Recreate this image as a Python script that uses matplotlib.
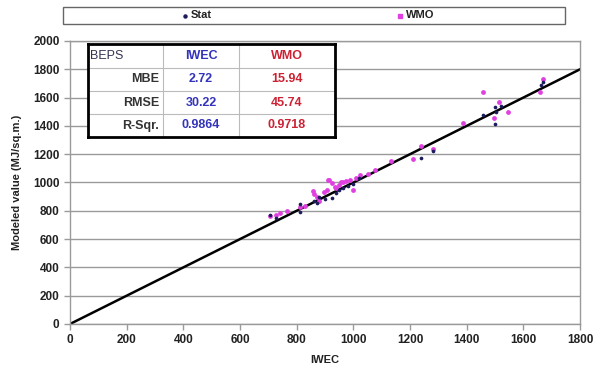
import matplotlib.pyplot as plt
from matplotlib.lines import Line2D
from matplotlib.patches import Rectangle

plt.rcParams['font.family'] = ['Liberation Sans', 'DejaVu Sans']
plt.rcParams['font.weight'] = 'bold'

# Datos (IWEC vs valor modelado)
stat_x = [706, 727, 812, 812, 862, 871, 880, 900, 923, 940, 950, 965, 980, 1000, 1020,
          1238, 1280, 1459, 1500, 1500, 1505, 1520, 1662, 1671]
stat_y = [770, 750, 790, 848, 870, 852, 895, 880, 887, 925, 945, 960, 975, 990, 1035,
          1171, 1225, 1477, 1413, 1536, 1500, 1540, 1689, 1710]

wmo_x = [706, 727, 741, 765, 812, 830, 857, 862, 870, 895, 906, 912, 915, 923, 935, 950,
         964, 975, 988, 1000, 1010, 1024, 1050, 1076, 1132, 1212, 1238, 1280, 1386,
         1459, 1497, 1515, 1545, 1659, 1671, 880, 940, 958]
wmo_y = [760, 770, 787, 800, 830, 835, 942, 916, 900, 935, 947, 1018, 1018, 994, 970, 985,
         1006, 1010, 1021, 947, 1035, 1053, 1060, 1088, 1155, 1164, 1258, 1240, 1417,
         1641, 1453, 1571, 1496, 1641, 1729, 870, 960, 1000]

linea_x = [0, 1800]
linea_y = [0, 1800]

x_ticks = [0, 200, 400, 600, 800, 1000, 1200, 1400, 1600, 1800]
y_ticks = [0, 200, 400, 600, 800, 1000, 1200, 1400, 1600, 1800, 2000]

tabla_filas = ["MBE", "RMSE", "R-Sqr."]
tabla_iwec = ["2.72", "30.22", "0.9864"]
tabla_wmo = ["15.94", "45.74", "0.9718"]

color_stat = "#1c1c5c"
color_wmo = "#e040e0"
gris = "#9a9a9a"

fig = plt.figure(figsize=(6.0, 3.72), dpi=100)
ax = fig.add_axes([70 / 600, 1 - 324 / 372, 510 / 600, 283 / 372])

ax.plot(linea_x, linea_y, color="black", lw=1.8, zorder=2)
ax.scatter(wmo_x, wmo_y, s=12, color=color_wmo, zorder=3, linewidths=0)
ax.scatter(stat_x, stat_y, s=7, color=color_stat, zorder=4, linewidths=0)

ax.set_xlim(0, 1800)
ax.set_ylim(0, 2000)
ax.set_xticks(x_ticks)
ax.set_yticks(y_ticks)
ax.yaxis.grid(True, color=gris, lw=1)
ax.set_axisbelow(True)
for s in ax.spines.values():
    s.set_color(gris)
    s.set_linewidth(1)
ax.tick_params(colors=gris, labelcolor="#222222", labelsize=8.5, length=4, width=1)
for lab in ax.get_xticklabels() + ax.get_yticklabels():
    lab.set_fontweight("bold")
ax.set_xlabel("IWEC", fontsize=8, fontweight="bold", color="#222222", labelpad=6)
ax.set_ylabel("Modeled value (MJ/sq.m.)", fontsize=8, fontweight="bold",
              color="#222222", labelpad=8)

# Tabla de estadisticos
tab = fig.add_axes([88 / 600, 1 - 137 / 372, 247 / 600, 93 / 372])
tab.set_xlim(0, 247)
tab.set_ylim(93, 0)
tab.set_facecolor("white")
tab.set_xticks([])
tab.set_yticks([])
for s in tab.spines.values():
    s.set_linewidth(2)
    s.set_color("black")
tab.axvline(75, color="#bbbbbb", lw=0.8)
tab.axvline(151, color="#bbbbbb", lw=0.8)
for yy in [24, 47, 70]:
    tab.axhline(yy, color="#bbbbbb", lw=0.8)
tab.text(2, 12, "BEPS", fontsize=9, color="#333355", va="center", ha="left",
         fontweight="normal")
tab.text(113, 12, "IWEC", fontsize=9, color="#3333bb", va="center", ha="center")
tab.text(199, 12, "WMO", fontsize=9, color="#cc2233", va="center", ha="center")
for i, fila in enumerate(tabla_filas):
    yc = 35.5 + i * 23
    tab.text(71, yc, fila, fontsize=9, color="#333333", va="center", ha="right")
    tab.text(113, yc, tabla_iwec[i], fontsize=9, color="#3333bb", va="center", ha="center")
    tab.text(199, yc, tabla_wmo[i], fontsize=9, color="#cc2233", va="center", ha="center")

# Leyenda
fig.patches.append(Rectangle((63 / 600, 1 - 24 / 372), 502 / 600, 17 / 372,
                             transform=fig.transFigure, fill=False,
                             edgecolor="#666666", lw=1))
fig.add_artist(Line2D([185 / 600], [1 - 15.5 / 372], marker="o", ms=2.2,
                      color=color_stat, transform=fig.transFigure))
fig.text(191 / 600, 1 - 15.5 / 372, "Stat", fontsize=8, fontweight="bold",
         va="center", color="#222222")
fig.add_artist(Line2D([400 / 600], [1 - 15.5 / 372], marker="s", ms=2.6,
                      color=color_wmo, transform=fig.transFigure))
fig.text(406 / 600, 1 - 15.5 / 372, "WMO", fontsize=8, fontweight="bold",
         va="center", color="#222222")

fig.savefig("out.png", dpi=100)
